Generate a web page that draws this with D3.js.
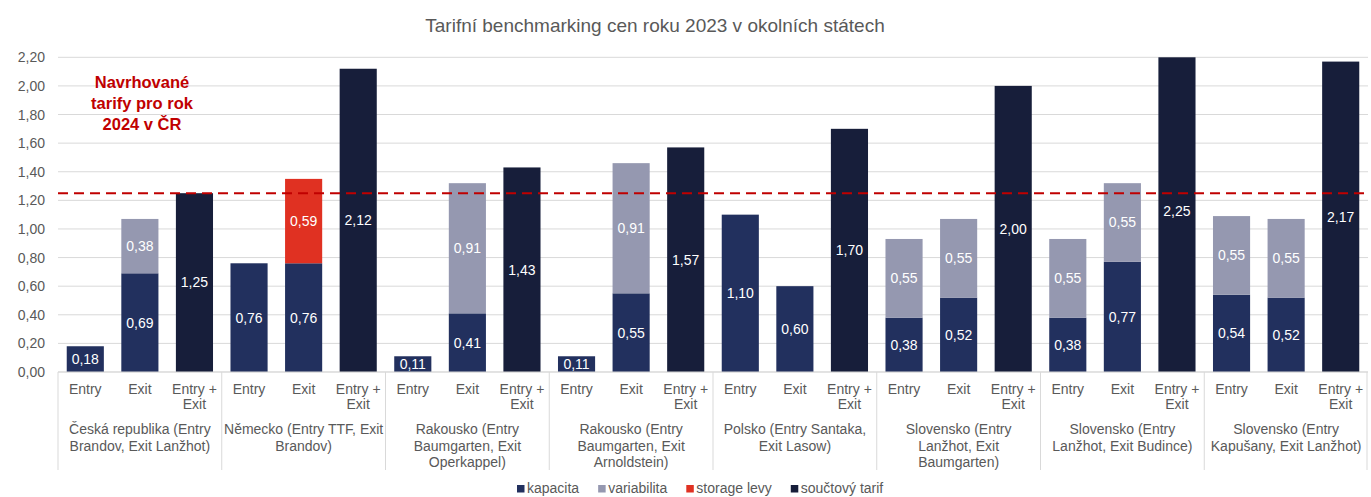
<!DOCTYPE html>
<html>
<head>
<meta charset="utf-8">
<script src="https://cdn.jsdelivr.net/npm/d3@7"></script>
<style>
  body { margin: 0; background: #fff; }
  svg { display: block; font-family: "Liberation Sans", Arial, sans-serif; }
</style>
</head>
<body>
<div id="chart"></div>
<script>
// Tarifní benchmarking – stacked bars per entry/exit point

const groups = [
  "Česká republika (Entry\nBrandov, Exit Lanžhot)",
  "Německo (Entry TTF, Exit\nBrandov)",
  "Rakousko (Entry\nBaumgarten, Exit\nOperkappel)",
  "Rakousko (Entry\nBaumgarten, Exit\nArnoldstein)",
  "Polsko (Entry Santaka,\nExit Lasow)",
  "Slovensko (Entry\nLanžhot, Exit\nBaumgarten)",
  "Slovensko (Entry\nLanžhot, Exit Budince)",
  "Slovensko (Entry\nKapušany, Exit Lanžhot)"
];
const subCategories = ["Entry", "Exit", "Entry +\nExit"];

// one value per bar, 3 bars per group
const kapacita    = [0.18, 0.69, null, 0.76, 0.76, null, 0.11, 0.41, null, 0.11, 0.55, null,
                     1.10, 0.60, null, 0.38, 0.52, null, 0.38, 0.77, null, 0.54, 0.52, null];
const variabilita = [null, 0.38, null, null, null, null, null, 0.91, null, null, 0.91, null,
                     null, null, null, 0.55, 0.55, null, 0.55, 0.55, null, 0.55, 0.55, null];
const storageLevy = [null, null, null, null, 0.59, null, null, null, null, null, null, null,
                     null, null, null, null, null, null, null, null, null, null, null, null];
const soucetTarif = [null, null, 1.25, null, null, 2.12, null, null, 1.43, null, null, 1.57,
                     null, null, 1.70, null, null, 2.00, null, null, 2.25, null, null, 2.17];

const yTicks = [0, 0.2, 0.4, 0.6, 0.8, 1.0, 1.2, 1.4, 1.6, 1.8, 2.0, 2.2];
const proposedTariff = 1.25;
const proposedLabel = ["Navrhované", "tarify pro rok", "2024 v ČR"];

const series = [
  { name: "kapacita", values: kapacita, color: "#22305e" },
  { name: "variabilita", values: variabilita, color: "#9598b0" },
  { name: "storage levy", values: storageLevy, color: "#e03122" },
  { name: "součtový tarif", values: soucetTarif, color: "#171e3a" }
];

const W = 1371, H = 497;
const plot = { left: 58, right: 1368, top: 57.3, bottom: 372 };
const textGrey = "#595959";
const gridGrey = "#d9d9d9";
const fmt = v => d3.format(".2f")(v).replace(".", ",");

const svg = d3.select("#chart").append("svg")
  .attr("width", W)
  .attr("height", H);

const barIds = d3.range(groups.length * subCategories.length);

const x = d3.scaleBand()
  .domain(barIds)
  .range([plot.left, plot.right])
  .paddingInner(0.32)
  .paddingOuter(0.16);

const y = d3.scaleLinear()
  .domain([0, 2.2])
  .range([plot.bottom, plot.top]);

// Title
svg.append("text")
  .attr("x", 655)
  .attr("y", 32)
  .attr("text-anchor", "middle")
  .style("font-size", "19px")
  .style("fill", textGrey)
  .text("Tarifní benchmarking cen roku 2023 v okolních státech");

// Gridlines
svg.append("g")
  .selectAll("line")
  .data(yTicks)
  .join("line")
  .attr("x1", plot.left)
  .attr("x2", plot.right)
  .attr("y1", d => y(d))
  .attr("y2", d => y(d))
  .attr("stroke", gridGrey)
  .attr("stroke-width", 1);

// Y axis labels
const yAxis = svg.append("g")
  .attr("transform", `translate(${plot.left},0)`)
  .call(d3.axisLeft(y).tickValues(yTicks).tickFormat(fmt).tickSize(0).tickPadding(13));
yAxis.select(".domain").remove();
yAxis.selectAll("text")
  .style("font-size", "14px")
  .style("fill", textGrey)
  .style("font-family", "'Liberation Sans', Arial, sans-serif");

// Stacked bars
const layers = svg.append("g");
barIds.forEach(i => {
  let base = 0;
  series.forEach(s => {
    const v = s.values[i];
    if (v == null) return;
    const top = Math.min(base + v, 2.2);
    layers.append("rect")
      .attr("x", x(i))
      .attr("width", x.bandwidth())
      .attr("y", y(top))
      .attr("height", y(base) - y(top))
      .attr("fill", s.color);
    layers.append("text")
      .attr("x", x(i) + x.bandwidth() / 2)
      .attr("y", y(base + v / 2))
      .attr("dy", "0.35em")
      .attr("text-anchor", "middle")
      .style("font-size", "14px")
      .style("fill", "#fff")
      .text(fmt(v));
    base += v;
  });
});

// Category axis baseline and separators
svg.append("line")
  .attr("x1", plot.left).attr("x2", plot.right)
  .attr("y1", plot.bottom).attr("y2", plot.bottom)
  .attr("stroke", gridGrey);

const groupW = (plot.right - plot.left) / groups.length;
svg.append("g")
  .selectAll("line")
  .data(d3.range(groups.length + 1))
  .join("line")
  .attr("x1", d => plot.left + d * groupW - (d === groups.length ? 1 : 0))
  .attr("x2", d => plot.left + d * groupW - (d === groups.length ? 1 : 0))
  .attr("y1", plot.bottom)
  .attr("y2", 470)
  .attr("stroke", gridGrey);

// Sub-category labels
const subLabels = svg.append("g")
  .style("font-size", "14px")
  .style("fill", textGrey);
barIds.forEach(i => {
  const lines = subCategories[i % subCategories.length].split("\n");
  const t = subLabels.append("text")
    .attr("text-anchor", "middle")
    .attr("x", x(i) + x.bandwidth() / 2)
    .attr("y", 394);
  lines.forEach((l, k) => {
    t.append("tspan")
      .attr("x", x(i) + x.bandwidth() / 2)
      .attr("dy", k === 0 ? 0 : 15)
      .text(l);
  });
});

// Group labels
groups.forEach((g, gi) => {
  const cx = plot.left + groupW * (gi + 0.5);
  const t = subLabels.append("text")
    .attr("text-anchor", "middle")
    .attr("x", cx)
    .attr("y", 434);
  g.split("\n").forEach((l, k) => {
    t.append("tspan")
      .attr("x", cx)
      .attr("dy", k === 0 ? 0 : 16.5)
      .text(l);
  });
});

// Proposed tariff line
svg.append("line")
  .attr("x1", plot.left).attr("x2", plot.right)
  .attr("y1", y(proposedTariff)).attr("y2", y(proposedTariff))
  .attr("stroke", "#c00000")
  .attr("stroke-width", 2)
  .attr("stroke-dasharray", "10,6");

const note = svg.append("text")
  .attr("text-anchor", "middle")
  .attr("x", 142)
  .attr("y", 88)
  .style("font-size", "16.5px")
  .style("font-weight", "bold")
  .style("fill", "#c00000");
proposedLabel.forEach((l, k) => {
  note.append("tspan")
    .attr("x", 142)
    .attr("dy", k === 0 ? 0 : 20.8)
    .text(l);
});

// Legend (sits at the very bottom edge, kept just inside it)
const legend = svg.append("g")
  .attr("transform", "translate(517,0)");
let lx = 0;
series.forEach(s => {
  legend.append("rect")
    .attr("x", lx)
    .attr("y", 485)
    .attr("width", 7.5)
    .attr("height", 7.5)
    .attr("fill", s.color);
  const t = legend.append("text")
    .attr("x", lx + 10)
    .attr("y", 493)
    .style("font-size", "14px")
    .style("fill", textGrey)
    .text(s.name);
  lx += 10 + t.node().getComputedTextLength() + 19;
});
</script>
</body>
</html>
